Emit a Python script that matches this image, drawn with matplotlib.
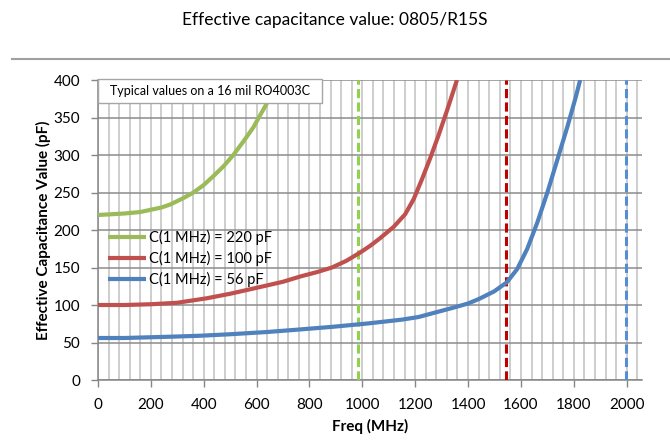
import matplotlib
matplotlib.use("Agg")
import matplotlib.pyplot as plt
from matplotlib.lines import Line2D
from matplotlib.patches import Rectangle
from matplotlib.ticker import MultipleLocator

plt.rcParams["font.family"] = ["Lato", "DejaVu Sans"]

# C(1 MHz) = 220 pF
freq_220 = [0, 100, 160, 200, 240, 273, 320, 361, 400, 437, 475, 512, 550, 588, 610, 639]
cap_220 = [220, 222, 224, 227, 230, 234, 242, 250, 260, 272, 285, 300, 318, 337, 351, 369]

# C(1 MHz) = 100 pF
freq_100 = [0, 100, 200, 300, 412, 500, 601, 700, 765, 830, 885, 940, 992, 1030,
            1067, 1118, 1162, 1194, 1226, 1257, 1289, 1321, 1358]
cap_100 = [100, 100, 101, 103, 109, 115, 123, 131, 138, 144, 150, 159, 170, 179,
           189, 204, 221, 241, 268, 296, 327, 360, 400]

# C(1 MHz) = 56 pF
freq_56 = [0, 100, 200, 300, 386, 500, 640, 750, 890, 1024, 1150, 1213, 1276,
           1340, 1400, 1441, 1498, 1546, 1586, 1624, 1662, 1700, 1738, 1776, 1808, 1824]
cap_56 = [56, 56, 57, 58, 59, 61, 64, 67, 71, 75.5, 80.5, 84, 90,
          96, 102, 108, 118, 130, 148, 175, 210, 250, 294, 338, 378, 400]

# self-resonance markers (MHz)
srf = [985, 1545, 1998]
srf_colors = ["#92D050", "#C00000", "#558ED5"]

series = [
    (freq_220, cap_220, "#9BBB59", "C(1 MHz) = 220 pF"),
    (freq_100, cap_100, "#C0504D", "C(1 MHz) = 100 pF"),
    (freq_56, cap_56, "#4F81BD", "C(1 MHz) = 56 pF"),
]

fig = plt.figure(figsize=(6.7, 4.44), dpi=100)
ax = fig.add_axes([98 / 670, 1 - 380 / 444, (642 - 98) / 670, 300 / 444])

for x, y, c, lab in series:
    ax.plot(x, y, color=c, lw=3, label=lab, solid_capstyle="butt",
            solid_joinstyle="round", zorder=4)

for f, c in zip(srf, srf_colors):
    ax.axvline(f, color=c, lw=2.2, dashes=(3, 1.4), zorder=3)

ax.set_xlim(0, 2058)
ax.set_ylim(0, 400)
ax.xaxis.set_major_locator(MultipleLocator(200))
ax.xaxis.set_minor_locator(MultipleLocator(40))
ax.yaxis.set_major_locator(MultipleLocator(50))
ax.grid(True, which="both", axis="x", color="#c0c0c0", lw=1.1, zorder=1)
ax.grid(True, which="major", axis="y", color="#8c8c8c", lw=1.1, zorder=1)
ax.set_axisbelow(True)

for s in ["top", "right"]:
    ax.spines[s].set_visible(False)
for s in ["left", "bottom"]:
    ax.spines[s].set_color("#868686")
    ax.spines[s].set_linewidth(1.1)

ax.tick_params(axis="x", which="major", length=5, width=1, color="#868686",
               pad=8, labelsize=11)
ax.tick_params(axis="x", which="minor", length=0)
ax.tick_params(axis="y", length=5, width=1, color="#868686", pad=8, labelsize=11)

ax.set_xlabel("Freq (MHz)", fontsize=11, fontweight="bold", labelpad=5)
ax.set_ylabel("Effective Capacitance Value (pF)", fontsize=11, fontweight="bold",
              labelpad=2)

ax.legend(loc="upper left", bbox_to_anchor=(0.0, 0.535), frameon=False,
          fontsize=10.5, handlelength=2.6, handletextpad=0.2, labelspacing=0.42,
          borderaxespad=0.3)

# note box in the top-left corner
ax.add_patch(Rectangle((0.0, 0.925), 0.412, 0.078, transform=ax.transAxes,
                       fc="white", ec="#a6a6a6", lw=1, zorder=6, clip_on=False))
ax.text(0.206, 0.963, "Typical values on a 16 mil RO4003C", transform=ax.transAxes,
        ha="center", va="center", fontsize=9, zorder=7)

fig.text(0.5, 1 - 20 / 444, "Effective capacitance value: 0805/R15S",
         ha="center", va="center", fontsize=12.5)
fig.add_artist(Line2D([12 / 670, 1.0], [1 - 59 / 444, 1 - 59 / 444],
                      color="#a0a0a0", lw=1.5))

fig.savefig("out.png", dpi=100)
